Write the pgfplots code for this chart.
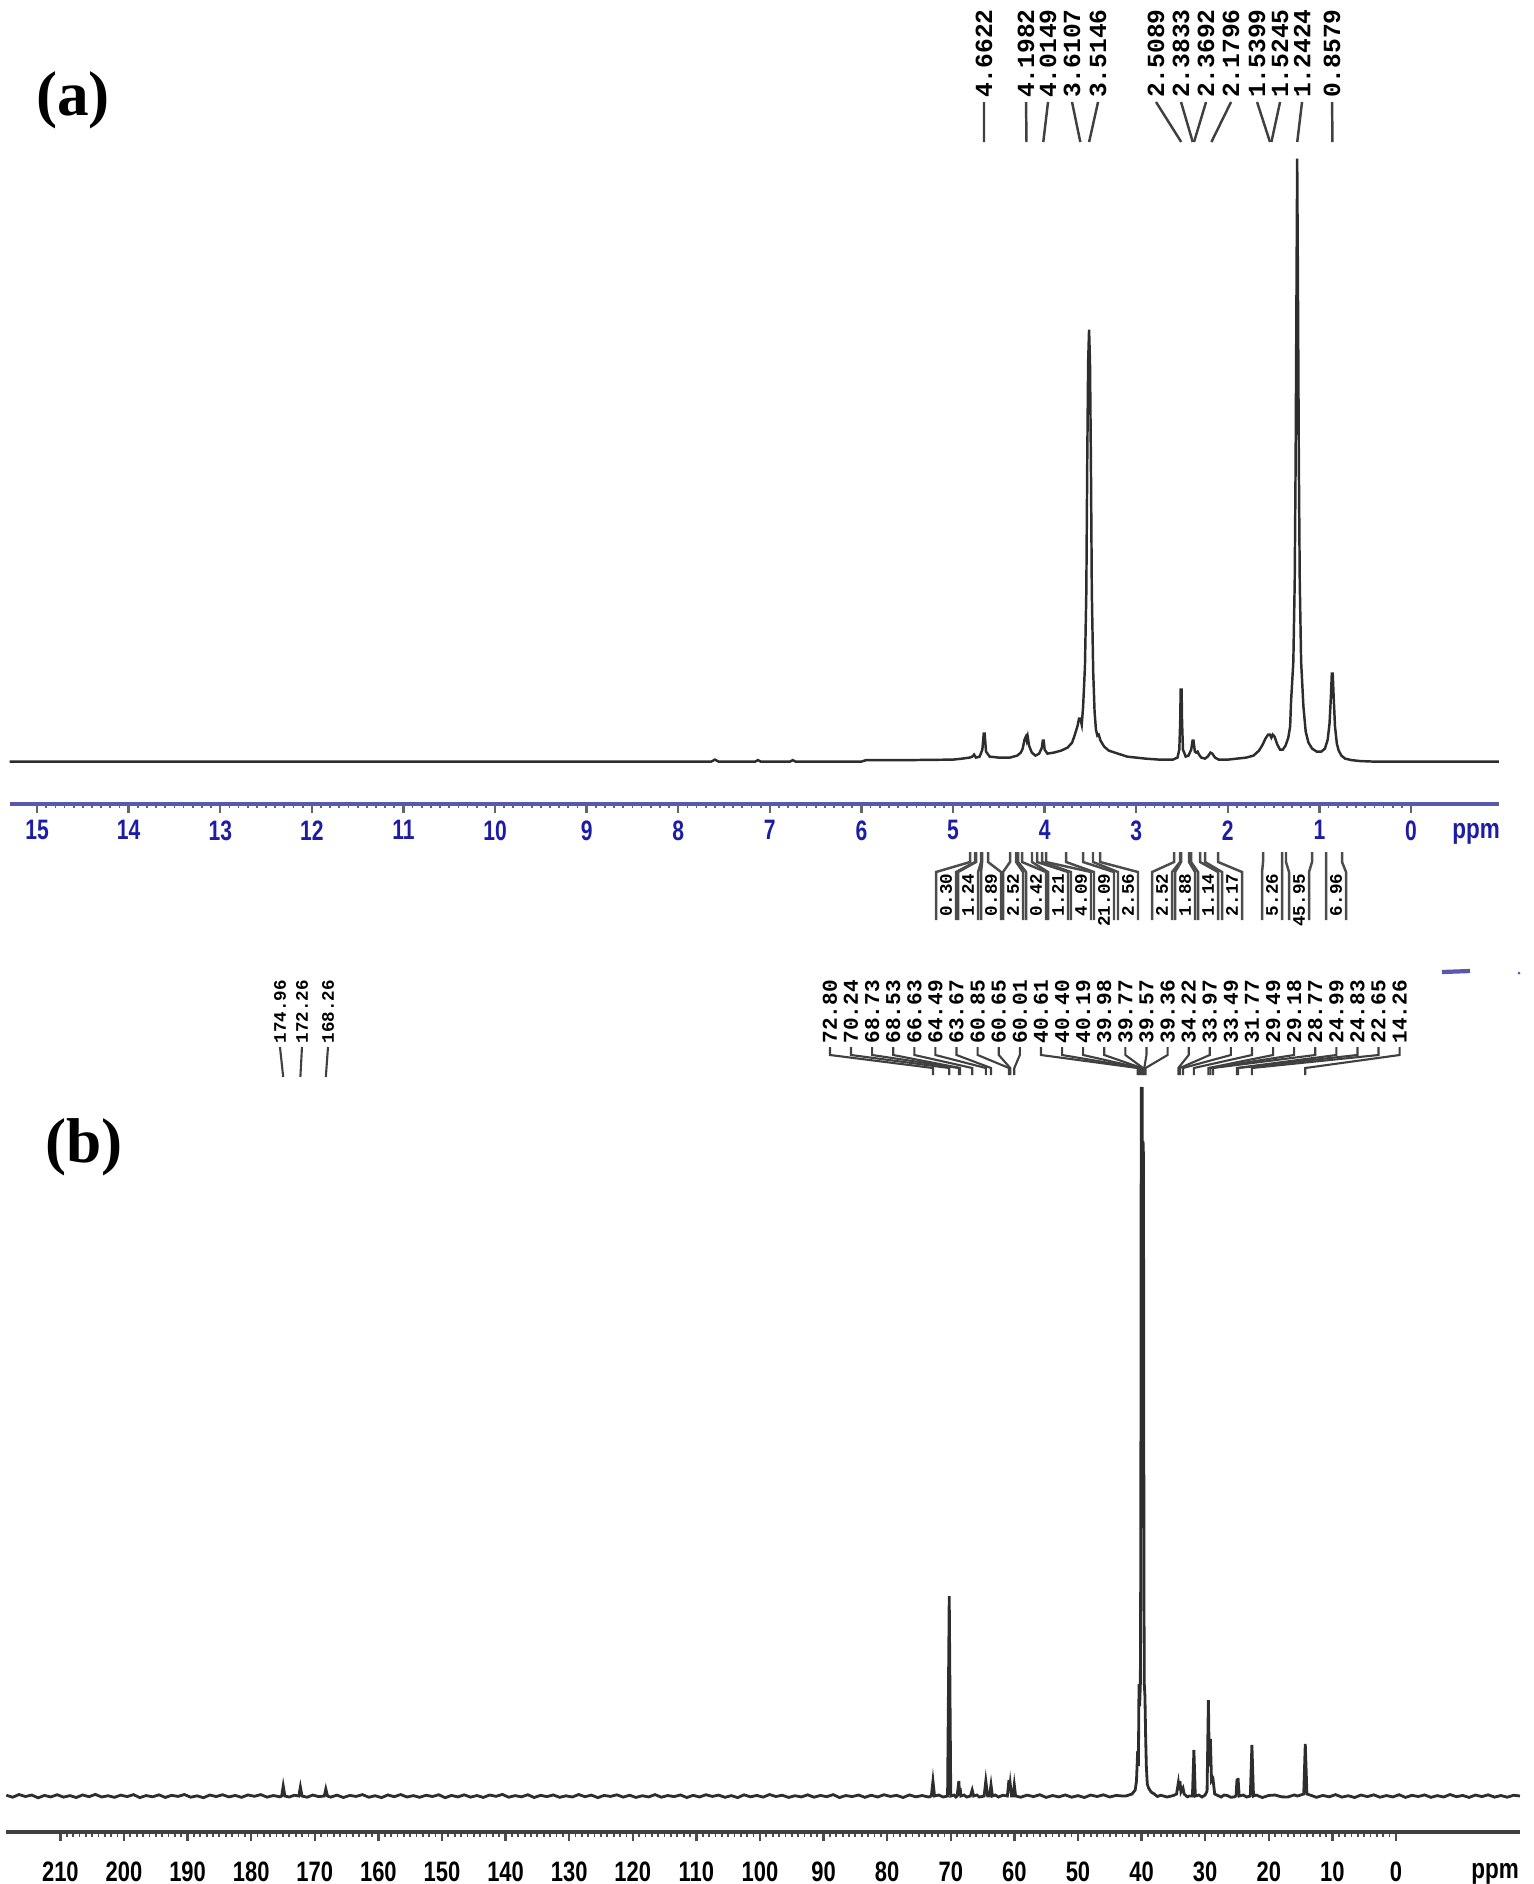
\documentclass[border=0pt]{standalone}
\usepackage{fontspec}
\setmainfont{Liberation Sans}
\newfontfamily\lmono{Liberation Mono}
\newfontfamily\timesfont{Liberation Serif}
\usepackage{pgfplots}
\pgfplotsset{compat=1.18}
\definecolor{axblue}{RGB}{88,88,175}
\definecolor{tickblue}{RGB}{28,28,165}
\definecolor{spec}{RGB}{45,45,45}

% peak label, panel a: label x (ppm), peak x (ppm), text
\newcommand{\plabA}[3]{%
  \draw[black!75,line width=0.7pt] (axis cs:#1,659.6) -- (axis cs:#2,619.6);
  \node[rotate=90,anchor=west,inner sep=0pt,font=\lmono\bfseries\fontsize{7}{7}\selectfont] at (axis cs:#1,663) {#3};}
% integral bracket: left limit, right limit, box centre (ppm), value
\newcommand{\intg}[4]{%
  \draw[black!70,line width=0.7pt] (axis cs:#1,-90.4) -- (axis cs:#1,-100.4) -- ([xshift=-0.1cm]axis cs:#3,-110.4) -- ([xshift=-0.1cm]axis cs:#3,-158.4);
  \draw[black!70,line width=0.7pt] (axis cs:#2,-90.4) -- (axis cs:#2,-100.4) -- ([xshift=0.1cm]axis cs:#3,-110.4) -- ([xshift=0.1cm]axis cs:#3,-158.4);
  \node[rotate=90,anchor=east,inner sep=0pt,font=\lmono\bfseries\fontsize{5}{5}\selectfont] at (axis cs:#3,-111.5) {#4};}
% peak label, panel b
\newcommand{\plabB}[3]{%
  \draw[black!75,line width=0.6pt] (axis cs:#1,749) -- (axis cs:#1,741) -- (axis cs:#2,728) -- (axis cs:#2,721);
  \node[rotate=90,anchor=west,inner sep=0pt,font=\lmono\bfseries\fontsize{6}{6}\selectfont] at (axis cs:#1,752) {#3};}
\newcommand{\plabC}[3]{%
  \draw[black!75,line width=0.6pt] (axis cs:#1,749) -- (axis cs:#2,719);
  \node[rotate=90,anchor=west,inner sep=0pt,font=\lmono\bfseries\fontsize{5}{5}\selectfont] at (axis cs:#1,752) {#3};}

\begin{document}
\begin{tikzpicture}
\path[use as bounding box] (0,0) rectangle (15.34,-18.84);

% ---------------- (a) 1H ----------------
\begin{axis}[at={(0.096cm,-8.037cm)},anchor=south west,scale only axis,
  width=14.894cm,height=8.037cm,
  x dir=reverse,xmin=-0.96,xmax=15.30,ymin=-42.1,ymax=761.6,
  axis x line*=bottom,axis y line=none,clip=false,
  xtick={0,...,15},minor x tick num=9,tick align=outside,
  major tick length=0.09cm,minor tick length=0.04cm,
  axis line style={axblue,line width=1.1pt},
  major tick style={black!60,line width=0.7pt},
  minor tick style={black!60,line width=0.5pt},
  /pgf/number format/assume math mode=true,
  xticklabel style={font=\bfseries\fontsize{8}{8}\selectfont,text=tickblue,xscale=0.75,inner sep=0pt,yshift=-0.07cm}]
\addplot[spec,line width=0.7pt,mark=none] coordinates {
(15.30,0) (12.00,0) (9.00,0) (7.64,0) (7.60,2) (7.56,0) (7.16,0) (7.13,1.5) (7.10,0)
(6.78,0) (6.75,1.5) (6.72,0) (6.00,0) (5.95,1.5) (5.50,1.5) (5.00,2) (4.90,3) (4.82,4)
(4.79,5) (4.77,7) (4.75,4) (4.71,5) (4.68,12) (4.665,28) (4.655,28) (4.64,10) (4.60,5)
(4.50,4) (4.38,4) (4.30,6) (4.26,9) (4.24,13) (4.22,22) (4.205,25) (4.195,21) (4.185,25)
(4.17,16) (4.14,9) (4.10,6) (4.06,8) (4.03,14) (4.02,21) (4.01,21) (4.00,12) (3.97,8)
(3.90,9) (3.82,11) (3.75,14) (3.70,19) (3.67,27) (3.64,36) (3.625,43) (3.61,43) (3.595,37)
(3.58,55) (3.56,95) (3.545,170) (3.535,300) (3.525,400) (3.515,432) (3.505,400) (3.495,300)
(3.485,170) (3.47,90) (3.455,50) (3.44,32) (3.425,26) (3.41,27) (3.39,21) (3.35,15) (3.30,11)
(3.20,8) (3.10,5) (3.00,4) (2.90,3) (2.75,2) (2.60,2) (2.55,4) (2.53,12) (2.52,40) (2.515,72)
(2.505,72) (2.50,40) (2.49,12) (2.46,5) (2.43,6) (2.40,12) (2.385,21) (2.375,21) (2.36,10)
(2.345,9) (2.33,10) (2.315,7) (2.29,4) (2.25,3) (2.22,5) (2.19,9) (2.17,8) (2.14,4) (2.10,2)
(2.00,2) (1.90,3) (1.80,4) (1.72,6) (1.66,11) (1.62,17) (1.59,23) (1.56,27) (1.54,27)
(1.525,24) (1.51,27) (1.49,25) (1.46,17) (1.43,12) (1.40,12) (1.37,16) (1.34,24) (1.32,35)
(1.31,60) (1.285,100) (1.27,180) (1.26,300) (1.25,480) (1.243,603) (1.235,480) (1.225,300)
(1.215,180) (1.20,100) (1.175,55) (1.15,30) (1.12,19) (1.08,13) (1.03,10) (0.98,10) (0.94,13)
(0.91,22) (0.89,38) (0.875,65) (0.865,88) (0.855,88) (0.845,65) (0.83,35) (0.81,18) (0.79,11)
(0.76,6) (0.72,3) (0.65,1.5) (0.55,0.5) (0.40,0) (-0.96,0)};
\plabA{4.662}{4.6622}{4.6622}
\plabA{4.203}{4.1982}{4.1982}
\plabA{3.963}{4.0149}{4.0149}
\plabA{3.701}{3.6107}{3.6107}
\plabA{3.417}{3.5146}{3.5146}
\plabA{2.784}{2.5089}{2.5089}
\plabA{2.511}{2.3833}{2.3833}
\plabA{2.238}{2.3692}{2.3692}
\plabA{1.965}{2.1796}{2.1796}
\plabA{1.681}{1.5399}{1.5399}
\plabA{1.430}{1.5245}{1.5245}
\plabA{1.190}{1.2424}{1.2424}
\plabA{0.862}{0.8579}{0.8579}
\intg{4.814}{4.760}{5.076}{0.30}
\intg{4.749}{4.694}{4.836}{1.24}
\intg{4.683}{4.618}{4.585}{0.89}
\intg{4.378}{4.312}{4.345}{2.52}
\intg{4.290}{4.247}{4.094}{0.42}
\intg{4.138}{4.083}{3.854}{1.21}
\intg{4.028}{3.985}{3.603}{4.09}
\intg{3.766}{3.581}{3.352}{21.09}
\intg{3.472}{3.395}{3.090}{2.56}
\intg{2.587}{2.522}{2.718}{2.52}
\intg{2.511}{2.424}{2.467}{1.88}
\intg{2.402}{2.303}{2.216}{1.14}
\intg{2.249}{2.107}{1.954}{2.17}
\intg{1.616}{1.408}{1.517}{5.26}
\intg{1.365}{1.081}{1.223}{45.95}
\intg{0.928}{0.753}{0.819}{6.96}
\node[font=\bfseries\fontsize{8}{8}\selectfont,text=tickblue,xscale=0.8] at (axis cs:-0.71,-72) {ppm};
\end{axis}

% ---------------- (b) 13C ----------------
\begin{axis}[at={(0.06cm,-18.32cm)},anchor=south west,scale only axis,
  width=15.14cm,height=8.72cm,
  x dir=reverse,xmin=-19.5,xmax=218.55,ymin=-36,ymax=836,
  axis x line*=bottom,axis y line=none,clip=false,
  xtick={0,10,...,210},minor x tick num=9,tick align=outside,
  major tick length=0.09cm,minor tick length=0.045cm,
  axis line style={black!75,line width=0.9pt},
  major tick style={black!70,line width=0.7pt},
  minor tick style={black!70,line width=0.5pt},
  /pgf/number format/assume math mode=true,
  xticklabel style={font=\bfseries\fontsize{8}{8}\selectfont,text=black,xscale=0.78,inner sep=0pt,yshift=-0.2cm}]
\addplot[spec,line width=0.8pt,mark=none] coordinates {
(218.5,0.8) (217.5,-1.2) (216.5,1.5) (215.5,-0.5) (214.5,1) (213.5,-1.8) (212.5,0.6)
(211.5,-0.9) (210.5,1.3) (209.5,-1.1) (208.5,0.4) (207.5,-1.5) (206.5,1.1) (205.5,-0.7)
(204.5,1.6) (203.5,-1) (202.5,0.3) (201.5,-1.3) (200.5,0.9) (199.5,-0.6) (198.5,1.4)
(197.5,-1.6) (196.5,0.5) (195.5,-0.8) (194.5,1.2) (193.5,-1.4) (192.5,0.7) (191.5,-0.4)
(190.5,1.5) (189.5,-1.2) (188.5,0.2) (187.5,-1.7) (186.5,1) (185.5,-0.5) (184.5,1.3)
(183.5,-0.9) (182.5,0.6) (181.5,-1.3) (180.5,1.1) (179.5,-0.3) (178.5,1.4) (177.5,-1.1)
(176.5,0.5) (175.5,-0.8) (175.2,0) (174.96,10) (174.7,0) (174.0,-1) (173.2,0.8) (172.5,0)
(172.26,9) (172.0,0) (171.2,-1.2) (170.3,1) (169.4,-0.6) (168.5,0) (168.26,7) (168.0,0)
(167.5,-1.1) (166.5,0.9) (165.5,-1.5) (164.5,0.6) (163.5,-0.4) (162.5,1.4) (161.5,-1.2)
(160.5,0.3) (159.5,-1.6) (158.5,1.1) (157.5,-0.7) (156.5,1.5) (155.5,-1) (154.5,0.4)
(153.5,-1.3) (152.5,0.8) (151.5,-0.5) (150.5,1.3) (149.5,-1.7) (148.5,0.6) (147.5,-0.9)
(146.5,1.2) (145.5,-1.1) (144.5,0.5) (143.5,-1.4) (142.5,1) (141.5,-0.3) (140.5,1.6)
(139.5,-1.2) (138.5,0.4) (137.5,-0.8) (136.5,1.3) (135.5,-1.5) (134.5,0.7) (133.5,-0.6)
(132.5,1.1) (131.5,-1.3) (130.5,0.2) (129.5,-1) (128.5,1.5) (127.5,-0.7) (126.5,0.9)
(125.5,-1.6) (124.5,0.6) (123.5,-0.4) (122.5,1.2) (121.5,-1.1) (120.5,0.8) (119.5,-1.4)
(118.5,0.3) (117.5,-0.9) (116.5,1.4) (115.5,-1.2) (114.5,0.5) (113.5,-0.6) (112.5,1.1)
(111.5,-1.5) (110.5,0.7) (109.5,-1) (108.5,1.3) (107.5,-0.4) (106.5,0.9) (105.5,-1.3)
(104.5,0.4) (103.5,-1.6) (102.5,1.2) (101.5,-0.8) (100.5,0.6) (99.5,-1.1) (98.5,1.5)
(97.5,-0.5) (96.5,0.8) (95.5,-1.4) (94.5,0.3) (93.5,-0.9) (92.5,1.2) (91.5,-1.2) (90.5,0.6)
(89.5,-0.7) (88.5,1.4) (87.5,-1.5) (86.5,0.5) (85.5,-0.6) (84.5,1) (83.5,-1.3) (82.5,0.8)
(81.5,-1) (80.5,1.3) (79.5,-0.4) (78.5,0.7) (77.5,-1.5) (76.5,1.1) (75.5,-0.8) (74.5,0.5)
(73.5,-1) (73.05,0) (72.80,15) (72.55,0) (71.9,1) (71.2,-1) (70.5,0) (70.24,200) (70.0,0)
(69.5,1) (69.2,-1) (69.0,0) (68.73,15) (68.6,0) (68.53,8) (68.4,0) (67.9,1) (67.5,-1)
(66.9,0) (66.63,6) (66.4,0) (65.9,1) (65.5,-1) (64.75,0) (64.49,15) (64.2,0) (63.9,0)
(63.67,11) (63.45,0) (63.0,1) (62.5,-1) (61.8,0.8) (61.1,0) (60.85,16) (60.75,6) (60.65,12)
(60.45,0) (60.2,0) (60.01,11) (59.8,0) (59.0,-1.2) (58.0,0.9) (57.0,-0.6) (56.0,1.3)
(55.0,-1.4) (54.0,0.5) (53.0,-0.9) (52.0,1.1) (51.0,-1.2) (50.0,0.4) (49.0,-1.5) (48.0,1)
(47.0,-0.5) (46.0,1.2) (45.0,-1) (44.0,0.6) (43.0,0) (42.5,0) (41.5,2) (41.0,6) (40.8,15)
(40.61,45) (40.5,30) (40.40,112) (40.3,90) (40.19,112) (40.12,250) (40.05,709) (39.98,690)
(39.9,709) (39.82,500) (39.77,655) (39.7,640) (39.62,200) (39.57,112) (39.47,100) (39.36,60)
(39.25,30) (39.1,12) (38.9,8) (38.5,4) (38.0,2) (37.5,-0.5) (37.0,0.8) (36.0,-1) (35.0,0.5)
(34.5,2) (34.22,13) (34.1,6) (33.97,15) (33.8,4) (33.49,8) (33.3,2) (32.8,-0.8) (32.5,0)
(32.0,0) (31.77,46) (31.55,0) (31.0,1) (30.5,-1) (30.0,1) (29.7,5) (29.49,96) (29.35,30)
(29.18,57) (29.0,15) (28.77,17) (28.5,2) (28.0,0.5) (27.5,-1) (27.0,1) (26.5,0.5) (26.0,-1.2)
(25.5,-1) (25.15,0) (24.99,17) (24.9,10) (24.83,18) (24.65,0) (24.0,1) (23.5,-1) (22.9,0)
(22.65,51) (22.4,0) (22.0,1) (21.0,-1.5) (20.0,0.6) (19.0,1) (18.0,-0.8) (17.0,-1) (16.0,1.1)
(15.5,0) (14.5,2) (14.26,52) (14.0,2) (13.5,1) (12.5,-1.3) (11.5,0.6) (10.5,-0.8) (9.5,1.4)
(8.5,-1.1) (7.5,0.3) (6.5,-1.5) (5.5,1) (4.5,-0.6) (3.5,1.2) (2.5,-1.2) (1.5,0.5) (0.5,-0.9)
(-0.5,1.3) (-1.5,-1.4) (-2.5,0.7) (-3.5,-0.5) (-4.5,1.1) (-5.5,-1.3) (-6.5,0.4) (-7.5,-1)
(-8.5,1.5) (-9.5,-0.7) (-10.5,0.6) (-11.5,-1.4) (-12.5,1) (-13.5,-0.6) (-14.5,1.2)
(-15.5,-1.1) (-16.5,0.5) (-17.5,-1.2) (-18.5,0.8) (-19.5,0)};
\plabC{175.47}{174.96}{174.96}
\plabC{172.01}{172.26}{172.26}
\plabC{167.92}{168.26}{168.26}
\plabB{88.99}{72.80}{72.80}
\plabB{85.68}{70.24}{70.24}
\plabB{82.36}{68.73}{68.73}
\plabB{79.04}{68.53}{68.53}
\plabB{75.72}{66.63}{66.63}
\plabB{72.41}{64.49}{64.49}
\plabB{69.09}{63.67}{63.67}
\plabB{65.77}{60.85}{60.85}
\plabB{62.45}{60.65}{60.65}
\plabB{59.14}{60.01}{60.01}
\plabB{55.82}{40.61}{40.61}
\plabB{52.50}{40.40}{40.40}
\plabB{49.18}{40.19}{40.19}
\plabB{45.86}{39.98}{39.98}
\plabB{42.55}{39.77}{39.77}
\plabB{39.23}{39.57}{39.57}
\plabB{35.91}{39.36}{39.36}
\plabB{32.59}{34.22}{34.22}
\plabB{29.28}{33.97}{33.97}
\plabB{25.96}{33.49}{33.49}
\plabB{22.64}{31.77}{31.77}
\plabB{19.32}{29.49}{29.49}
\plabB{16.01}{29.18}{29.18}
\plabB{12.69}{28.77}{28.77}
\plabB{9.37}{24.99}{24.99}
\plabB{6.05}{24.83}{24.83}
\plabB{2.74}{22.65}{22.65}
\plabB{-0.58}{14.26}{14.26}
\node[font=\bfseries\fontsize{8}{8}\selectfont,xscale=0.8] at (axis cs:-15.6,-78) {ppm};
\end{axis}

\node[font=\timesfont\bfseries\fontsize{18}{18}\selectfont] at (0.73,-1.00) {(a)};
\node[font=\timesfont\bfseries\fontsize{18}{18}\selectfont] at (0.84,-11.47) {(b)};
\draw[axblue,line width=1.2pt] (14.42,-9.72) -- (14.70,-9.71);
\fill[axblue] (15.19,-9.73) circle (0.015);
\end{tikzpicture}
\end{document}
